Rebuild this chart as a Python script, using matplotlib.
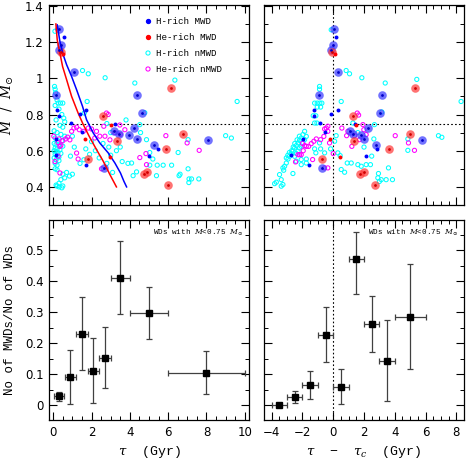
import numpy as np
import matplotlib
matplotlib.use('Agg')
import matplotlib.pyplot as plt
from matplotlib.ticker import MultipleLocator, FuncFormatter

# ---- top panels: mass vs age (tau) and vs tau - tau_c ----
# H-rich MWDs, strong ones (drawn with a halo)
hmwd_big_tau = [0.31, 0.40, 0.31, 1.08, 0.17, 4.35, 4.61, 3.17, 3.43, 3.95, 4.21, 4.35, 5.25, 2.64, 8.07]
hmwd_big_dtau = [0.02, 0.00, -0.13, 0.32, -0.93, 3.20, 3.07, 1.10, 1.30, 1.82, 2.25, 2.03, 2.80, -0.76, 5.78]
hmwd_big_m = [1.27, 1.185, 1.154, 1.034, 0.905, 0.905, 0.81, 0.707, 0.692, 0.685, 0.725, 0.663, 0.633, 0.505, 0.66]
# H-rich MWDs, others
hmwd_tau = [0.56, 0.21, 0.31, 0.91, 1.39, 1.72, 1.51, 0.12, 0.14, 1.69, 3.25, 5.48, 5.01]
hmwd_dtau = [0.19, -1.23, -1.26, -0.84, -0.13, 0.32, -0.52, -1.99, -2.77, -1.56, 1.43, 2.86, 2.10]
hmwd_m = [1.226, 0.826, 0.793, 0.753, 0.805, 0.826, 0.705, 0.663, 0.575, 0.523, 0.745, 0.61, 0.573]

# He-rich MWDs
hemwd_big_tau = [6.16, 2.61, 6.75, 5.88, 4.75, 4.90, 6.00, 1.83, 3.34, 0.40]
hemwd_big_dtau = [5.30, 1.30, 5.02, 3.61, 1.77, 1.99, 2.70, -0.74, 1.34, -0.06]
hemwd_big_m = [0.944, 0.793, 0.692, 0.611, 0.474, 0.482, 0.413, 0.553, 0.653, 1.147]
hemwd_tau = [0.52, 1.65, 3.03, 2.96]
hemwd_dtau = [0.09, -0.20, 1.49, 0.43]
hemwd_m = [1.133, 0.665, 0.744, 0.563]

# H-rich non-magnetic WDs
hn_tau = [0.09, 0.07, 0.10, 1.53, 1.83, 2.71, 4.26, 6.35, 9.6, 1.77, 1.62, 0.26, 0.38, 0.50, 0.12, 0.2,
          0.1, 0.3, 0.45, 0.55, 0.6, 0.15, 0.35, 0.5, 0.05, 0.2, 0.4, 0.6, 0.1, 0.25, 0.45, 0.05, 0.15, 0.3,
          0.5, 0.1, 0.2, 0.35, 0.05, 0.15, 0.25, 0.4, 0.1, 0.2, 0.3, 0.05, 0.15, 0.3, 0.1, 0.2, 0.1, 0.2,
          0.5, 0.7, 0.85, 1.0, 0.6, 0.4, 0.3, 0.15, 0.3, 0.5, 0.45, 0.2,
          1.0, 1.1, 0.9, 1.4, 1.6, 1.7, 1.9, 2.0, 2.2, 2.4, 2.6, 2.9, 2.8, 3.0, 3.1, 3.3, 3.5, 3.6, 3.9,
          4.09, 4.17, 4.35, 4.56, 4.52, 4.78, 4.87, 5.04, 5.2, 5.04, 5.43, 5.74, 6.18, 5.39, 6.52, 7.04,
          6.57, 6.62, 7.04, 7.09, 7.22, 7.6, 7.08, 9.0, 9.3, 2.8, 3.0, 3.8]
hn_m = [1.26, 0.955, 0.94, 1.043, 1.025, 1.003, 0.974, 0.99, 0.872, 0.872, 0.808, 0.863, 0.863, 0.863, 0.92, 0.88,
        0.85, 0.83, 0.80, 0.78, 0.76, 0.77, 0.74, 0.73, 0.71, 0.70, 0.69, 0.68, 0.67, 0.655, 0.655, 0.64, 0.635, 0.63,
        0.625, 0.615, 0.61, 0.605, 0.60, 0.595, 0.59, 0.585, 0.58, 0.57, 0.565, 0.56, 0.55, 0.545, 0.53, 0.52, 0.50, 0.495,
        0.47, 0.48, 0.46, 0.47, 0.45, 0.44, 0.42, 0.41, 0.40, 0.405, 0.395, 0.405,
        0.68, 0.62, 0.57, 0.53, 0.55, 0.61, 0.58, 0.65, 0.60, 0.56, 0.64, 0.62, 0.53, 0.575, 0.48, 0.60, 0.62, 0.54, 0.53,
        0.532, 0.462, 0.483, 0.70, 0.744, 0.81, 0.661, 0.59, 0.554, 0.52, 0.52, 0.52, 0.52, 0.462, 0.59, 0.661,
        0.462, 0.47, 0.50, 0.444, 0.444, 0.444, 0.424, 0.683, 0.67, 0.75, 0.70, 0.77]
hn_dtau = [-0.13, 0.84, 1.06, 1.86, 3.38, 5.43, 8.31, 0.52, -0.89, -0.89, -1.21, -1.04, -0.87, -0.74, -1.04, -0.82,
           -1.30, -1.13, -1.21, -1.06, 3.16, 2.68, 1.28,
           -3.81, -3.70, -3.38, -3.27, -3.38, -3.49, -3.22, -3.16, -3.27, -3.05, -2.94, -2.84, -2.73, -2.62, -2.51,
           -2.40, -2.29, -2.19, -2.08, -1.97, -1.86, -2.62, -2.40, -2.08, -1.75, -1.75, -2.08, -1.97, -1.86, -1.75,
           -2.51, -2.29, -2.19, -2.40, -2.60, -2.50, -2.35, -2.20, -2.70, -2.85, -2.95, -3.05,
           -1.21, -0.82, -1.13, -0.56, -0.17, 0.30, -0.89, 0.09, 0.45, 0.19, 0.52, 0.74, 0.91, 1.60, 1.82, 2.14,
           2.42, 2.64, 2.94, 3.12, 3.44, 3.85, 3.59, 4.85, 4.85, 6.84, 7.06, 1.17, -2.08, 2.0, 2.5, 1.6, 2.9, 3.0]
hn_dm = [1.268, 1.043, 1.025, 1.003, 0.974, 0.994, 0.872, 0.872, 0.955, 0.94, 0.863, 0.863, 0.863, 0.863, 0.841, 0.841,
         0.793, 0.793, 0.753, 0.753, 0.814, 0.744, 0.753,
         0.418, 0.426, 0.404, 0.413, 0.44, 0.468, 0.492, 0.514, 0.505, 0.532, 0.554, 0.569, 0.584, 0.597, 0.615,
         0.628, 0.643, 0.657, 0.67, 0.689, 0.707, 0.474, 0.542, 0.551, 0.554, 0.532, 0.624, 0.643, 0.661, 0.679,
         0.569, 0.597, 0.615, 0.584, 0.62, 0.64, 0.66, 0.68, 0.60, 0.59, 0.575, 0.56,
         0.61, 0.61, 0.588, 0.588, 0.61, 0.588, 0.643, 0.652, 0.573, 0.683, 0.496, 0.481, 0.532, 0.523, 0.514, 0.523,
         0.523, 0.665, 0.474, 0.44, 0.44, 0.44, 0.505, 0.665, 0.602, 0.683, 0.674, 0.532, 0.523, 0.62, 0.57, 0.70, 0.45, 0.43]

# He-rich non-magnetic WDs
hen_tau = [2.78, 2.87, 0.03, 0.31, 0.35, 0.4, 0.25, 0.5, 0.65, 0.75, 0.96, 1.08, 1.22, 1.36, 1.57, 1.83, 2.26,
           2.43, 2.64, 2.7, 2.96, 3.22, 3.48, 3.74, 1.22, 1.3, 2.52, 4.52, 4.84, 5.88, 6.99, 7.62, 4.87, 0.87,
           0.35, 0.26, 0.09, 2.17, 2.0, 3.5]
hen_m = [0.808, 0.80, 0.68, 0.665, 0.624, 0.63, 0.645, 0.655, 0.665, 0.675, 0.707, 0.725, 0.73, 0.716, 0.707, 0.725,
         0.707, 0.68, 0.735, 0.68, 0.66, 0.70, 0.742, 0.716, 0.587, 0.554, 0.50, 0.562, 0.584, 0.683, 0.643, 0.602,
         0.523, 0.66, 0.477, 0.57, 0.54, 0.67, 0.72, 0.69]
hen_dtau = [-0.56, -0.45, -0.35, -0.35, -0.61, -0.82, -1.10, -1.26, -1.43, -1.60, -1.75, -1.86, -2.19, -2.08, -2.29,
            -2.45, -1.34, -0.56, -0.35, 0.00, -0.24, 0.56, 0.87, 1.21, 1.56, 1.65, 1.93, 1.99, 2.14, 4.03, 5.28,
            4.89, 1.39, 0.95, 1.71, -2.00, -1.95]
hen_dm = [0.72, 0.725, 0.735, 0.707, 0.679, 0.661, 0.665, 0.652, 0.639, 0.624, 0.624, 0.628, 0.578, 0.578, 0.578,
          0.538, 0.551, 0.505, 0.505, 0.584, 0.643, 0.725, 0.683, 0.624, 0.808, 0.797, 0.744, 0.716, 0.689, 0.683,
          0.602, 0.643, 0.683, 0.707, 0.661, 0.64, 0.60]

# cooling-time curves tau_c(M)
h_curve_tau = [0.21, 0.35, 0.52, 0.70, 0.96, 1.22, 1.53, 1.74, 2.09, 2.43, 2.87, 3.22, 3.51, 3.69, 3.83]
h_curve_m = [1.295, 1.203, 1.13, 1.075, 1.01, 0.937, 0.845, 0.771, 0.698, 0.643, 0.588, 0.532, 0.477, 0.431, 0.40]
he_curve_tau = [0.14, 0.21, 0.35, 0.49, 0.70, 0.96, 1.30, 1.57, 1.88, 2.26, 2.61, 2.96, 3.30]
he_curve_m = [1.30, 1.212, 1.139, 1.065, 0.992, 0.90, 0.808, 0.744, 0.679, 0.606, 0.542, 0.468, 0.40]

# ---- bottom panels: fraction of MWDs among WDs with M < 0.75 ----
frac_tau = [0.3, 0.9, 1.5, 2.1, 2.7, 3.5, 5.0, 8.0]
frac_tau_err = [0.25, 0.3, 0.3, 0.3, 0.3, 0.5, 1.0, 2.0]
frac_tau_val = [0.028, 0.091, 0.231, 0.110, 0.153, 0.411, 0.299, 0.105]
frac_tau_lo = [0.014, 0.004, 0.114, 0.006, 0.055, 0.293, 0.215, 0.036]
frac_tau_hi = [0.044, 0.177, 0.349, 0.216, 0.254, 0.530, 0.383, 0.174]

frac_dtau = [-3.5, -2.5, -1.5, -0.5, 0.5, 1.5, 2.5, 3.5, 5.0]
frac_dtau_err = [0.5, 0.5, 0.5, 0.5, 0.5, 0.5, 0.5, 0.5, 1.0]
frac_dtau_val = [0.0, 0.027, 0.065, 0.227, 0.058, 0.473, 0.261, 0.144, 0.285]
frac_dtau_lo = [0.0, 0.006, 0.021, 0.138, 0.003, 0.36, 0.171, 0.012, 0.116]
frac_dtau_hi = [0.0, 0.046, 0.109, 0.316, 0.117, 0.56, 0.353, 0.275, 0.457]

MONO = 'Liberation Mono'
plt.rcParams['mathtext.fontset'] = 'dejavuserif'
plt.rcParams['font.family'] = ['DejaVu Sans']

fig = plt.figure(figsize=(4.71, 4.63), dpi=100)
W, H = 471.0, 463.0
def add_ax(x0, y0, x1, y1):
    return fig.add_axes([x0 / W, 1 - y1 / H, (x1 - x0) / W, (y1 - y0) / H])

ax_tl = add_ax(49, 5, 249, 205)
ax_tr = add_ax(264, 5, 464, 205)
ax_bl = add_ax(49, 220, 249, 420)
ax_br = add_ax(264, 220, 464, 420)

def fmt(v, pos):
    s = ('%.2f' % v).rstrip('0').rstrip('.')
    if s == '-0':
        s = '0'
    return s.replace('-', '\u2212')

for ax in (ax_tl, ax_tr, ax_bl, ax_br):
    ax.tick_params(which='both', direction='in', top=True, right=True, labelsize=8.5, pad=4)
    ax.tick_params(which='major', length=6, width=0.8)
    ax.tick_params(which='minor', length=3, width=0.7)
    for sp in ax.spines.values():
        sp.set_linewidth(0.9)
    ax.xaxis.set_major_locator(MultipleLocator(2))
    ax.xaxis.set_minor_locator(MultipleLocator(0.5))
    ax.xaxis.set_major_formatter(FuncFormatter(fmt))
    ax.yaxis.set_major_formatter(FuncFormatter(fmt))

def scatter_panel(ax, xs, ms):
    hn_x, hen_x, hb_x, h_x, heb_x, he_x = xs
    hn_y, hen_y = ms
    ax.scatter(hn_x, hn_y, s=9, facecolors='none', edgecolors='#00ffff', linewidths=0.75, zorder=2)
    ax.scatter(hen_x, hen_y, s=9, facecolors='none', edgecolors='#ff00ff', linewidths=0.75, zorder=2)
    ax.scatter(hb_x, hmwd_big_m, s=38, color='#3c3cff', alpha=0.72, linewidths=0, zorder=3)
    ax.scatter(heb_x, hemwd_big_m, s=38, color='#ff3c3c', alpha=0.72, linewidths=0, zorder=3)
    ax.scatter(hb_x, hmwd_big_m, s=4, color='#0000c8', linewidths=0, zorder=4)
    ax.scatter(heb_x, hemwd_big_m, s=4, color='#d00000', linewidths=0, zorder=4)
    ax.scatter(h_x, hmwd_m, s=8, color='#0000ff', linewidths=0, zorder=4)
    ax.scatter(he_x, hemwd_m, s=8, color='#ff0000', linewidths=0, zorder=4)
    ax.axhline(0.75, color='k', ls=(0, (1.5, 2)), lw=0.8, zorder=1)
    ax.set_ylim(0.3, 1.405)
    ax.yaxis.set_major_locator(MultipleLocator(0.2))
    ax.yaxis.set_minor_locator(MultipleLocator(0.1))
    ax.tick_params(labelbottom=False)

# top left
scatter_panel(ax_tl, (hn_tau, hen_tau, hmwd_big_tau, hmwd_tau, hemwd_big_tau, hemwd_tau), (hn_m, hen_m))
ax_tl.plot(h_curve_tau, h_curve_m, color='#0000ff', lw=1.1, zorder=3)
ax_tl.plot(he_curve_tau, he_curve_m, color='#ff0000', lw=1.1, zorder=3)
ax_tl.set_xlim(-0.22, 10.22)
ax_tl.set_ylabel(r'$M\ \ /\ \ M_{\odot}$', fontsize=10, labelpad=6)

# legend
leg_items = [('H-rich MWD', '#0000ff', True), ('He-rich MWD', '#ff0000', True),
             ('H-rich nMWD', '#00ffff', False), ('He-rich nMWD', '#ff00ff', False)]
for i, (lab, col, filled) in enumerate(leg_items):
    yy = 0.92 - i * 0.08
    if filled:
        ax_tl.scatter([0.495], [yy], s=8, color=col, transform=ax_tl.transAxes, zorder=5)
    else:
        ax_tl.scatter([0.495], [yy], s=9, facecolors='none', edgecolors=col, linewidths=0.75,
                      transform=ax_tl.transAxes, zorder=5)
    ax_tl.text(0.535, yy, lab, transform=ax_tl.transAxes, fontsize=6.6, family=MONO, va='center')

# top right
scatter_panel(ax_tr, (hn_dtau, hen_dtau, hmwd_big_dtau, hmwd_dtau, hemwd_big_dtau, hemwd_dtau), (hn_dm, hen_dm))
ax_tr.axvline(0, color='k', ls=(0, (1.5, 2)), lw=0.8, zorder=1)
ax_tr.set_xlim(-4.5, 8.5)
ax_tr.tick_params(labelleft=False)

# bottom panels
def frac_panel(ax, x, xe, v, lo, hi):
    v = np.array(v)
    yerr = [v - np.array(lo), np.array(hi) - v]
    ax.errorbar(x, v, xerr=xe, yerr=yerr, fmt='s', color='k', ms=5, ecolor='#404040',
                elinewidth=0.9, capsize=2.5, capthick=0.9)
    ax.set_ylim(-0.048, 0.598)
    ax.yaxis.set_major_locator(MultipleLocator(0.1))
    ax.yaxis.set_minor_locator(MultipleLocator(0.05))
    ax.text(0.97, 0.935, r'WDs with $M$<0.75 $M_{\odot}$', transform=ax.transAxes,
            fontsize=5.5, family=MONO, ha='right', va='center')

frac_panel(ax_bl, frac_tau, frac_tau_err, frac_tau_val, frac_tau_lo, frac_tau_hi)
ax_bl.set_xlim(-0.22, 10.22)
ax_bl.set_xlabel(r'$\tau$  (Gyr)', fontsize=9.5, family=MONO, labelpad=4)
ax_bl.set_ylabel('No of MWDs/No of WDs', fontsize=9, family=MONO, labelpad=6)

frac_panel(ax_br, frac_dtau, frac_dtau_err, frac_dtau_val, frac_dtau_lo, frac_dtau_hi)
ax_br.axvline(0, color='k', ls=(0, (1.5, 2)), lw=0.8, zorder=1)
ax_br.set_xlim(-4.5, 8.5)
ax_br.tick_params(labelleft=False)
ax_br.set_xlabel('$\\tau$  \u2212  $\\tau_c$  (Gyr)', fontsize=9.5, family=MONO, labelpad=4)

fig.savefig('out.png', dpi=100)
